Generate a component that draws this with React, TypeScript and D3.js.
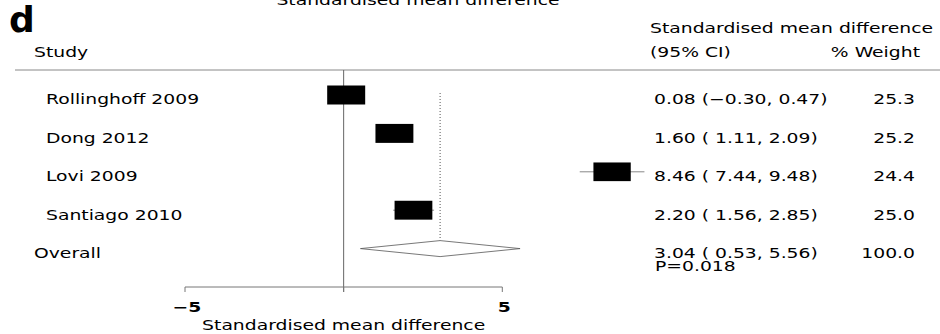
import React from 'react'
import { scaleLinear, scalePoint, scaleSqrt } from 'd3'

const studies = ['Rollinghoff 2009', 'Dong 2012', 'Lovi 2009', 'Santiago 2010']
const smd = [0.08, 1.6, 8.46, 2.2]
const lower = [-0.3, 1.11, 7.44, 1.56]
const upper = [0.47, 2.09, 9.48, 2.85]
const weights = [25.3, 25.2, 24.4, 25.0]
const ciLabels = ['0.08 (\u22120.30, 0.47)', '1.60 ( 1.11, 2.09)', '8.46 ( 7.44, 9.48)', '2.20 ( 1.56, 2.85)']

const overallLabel = 'Overall'
const overall = [3.04, 0.53, 5.56] // estimate, lower, upper
const overallCi = '3.04 ( 0.53, 5.56)'
const overallWeight = '100.0'
const pLabel = 'P=0.018'

const xTicks = [-5, 0, 5]
const xTickLabels = [-5, 5]

const width = 940
const height = 334
const FONT = '"DejaVu Sans", Verdana, sans-serif'
const FS = 13.7
const SX = 1.37 // the source picture is stretched sideways

const x = scaleLinear().domain([-5, 5]).range([185, 502.3])
const y = scalePoint<string>().domain([...studies, overallLabel]).range([95, 248.6])
const boxW = scaleSqrt().domain([0, 25.3]).range([0, 38])

function T({ x, y, children, anchor = 'start', weight = 'normal', size = FS }: any) {
  return (
    <text transform={`translate(${x},${y}) scale(${SX},1)`} textAnchor={anchor}
      fontFamily={FONT} fontSize={size} fontWeight={weight} fill="#000">
      {children}
    </text>
  )
}

export default function App() {
  const oy = y(overallLabel)!
  const base = 9.3
  return (
    <svg width={width} height={height} style={{ position: 'absolute', left: 0, top: 0, background: '#fff' }}>
      <T x={418} y={5} anchor="middle">Standardised mean difference</T>
      <text x={9} y={32} fontFamily={FONT} fontSize={36} fontWeight="bold">d</text>

      {/* headers */}
      <T x={34} y={57}>Study</T>
      <T x={650} y={33}>Standardised mean difference</T>
      <T x={650} y={57}>(95% CI)</T>
      <T x={920} y={57} anchor="end">% Weight</T>
      <line x1={15} x2={940} y1={70} y2={70} stroke="#888" />

      {/* null line */}
      <line x1={x(0)} x2={x(0)} y1={70} y2={292} stroke="#666" />
      {/* overall estimate */}
      <line x1={x(overall[0])} x2={x(overall[0])} y1={y(studies[0])! - 2} y2={oy - 8}
        stroke="#555" strokeDasharray="1,2" />

      {studies.map((s, i) => {
        const cy = y(s)!
        const w = boxW(weights[i])
        return (
          <g key={s}>
            <T x={46} y={cy + base}>{s}</T>
            <line x1={x(lower[i])} x2={x(upper[i])} y1={cy} y2={cy} stroke="#888" />
            <rect x={x(smd[i]) - w / 2} y={cy - w / 4} width={w} height={w / 2} fill="#000" />
            <T x={654} y={cy + base}>{ciLabels[i]}</T>
            <T x={915} y={cy + base} anchor="end">{weights[i].toFixed(1)}</T>
          </g>
        )
      })}

      <T x={34} y={oy + base}>{overallLabel}</T>
      <polygon
        points={[
          [x(overall[1]), oy],
          [x(overall[0]), oy - 8],
          [x(overall[2]), oy],
          [x(overall[0]), oy + 8],
        ].map(p => p.join(',')).join(' ')}
        fill="#fff" stroke="#555" strokeWidth={0.8} />
      <T x={654} y={oy + base}>{overallCi}</T>
      <T x={915} y={oy + base} anchor="end">{overallWeight}</T>
      <T x={655} y={271}>{pLabel}</T>

      {/* axis */}
      <line x1={x(-5)} x2={x(5)} y1={287} y2={287} stroke="#777" />
      {xTicks.map(t => (
        <line key={t} x1={x(t)} x2={x(t)} y1={287} y2={292} stroke="#777" />
      ))}
      {xTickLabels.map(t => (
        <T key={t} x={x(t) + 2} y={312} anchor="middle" weight="bold">{t < 0 ? `\u2212${-t}` : t}</T>
      ))}
      <T x={x(0)} y={329.7} anchor="middle">Standardised mean difference</T>
    </svg>
  )
}
